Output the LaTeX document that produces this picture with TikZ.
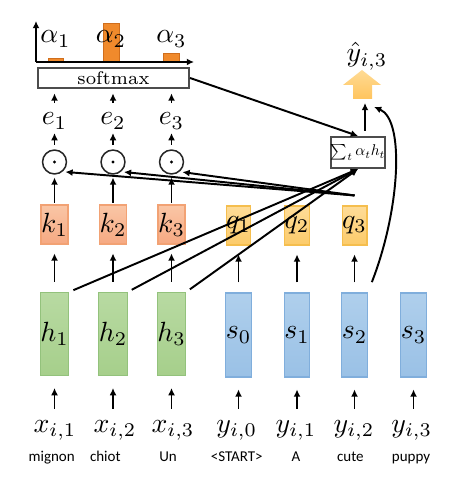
\documentclass[tikz,border=0pt]{standalone}
\usepackage{graphicx}
\usepackage{fontspec}
\newfontfamily\wordfont{Carlito}
\usetikzlibrary{arrows.meta}
\definecolor{kdraw}{HTML}{F2A274}
\definecolor{ktop}{HTML}{FAC6A6}
\definecolor{kbot}{HTML}{F6A982}
\definecolor{qdraw}{HTML}{F5BE4E}
\definecolor{qtop}{HTML}{FEDC98}
\definecolor{qbot}{HTML}{FCCB6A}
\definecolor{hdraw}{HTML}{93C27C}
\definecolor{htop}{HTML}{B8DAA2}
\definecolor{hbot}{HTML}{A6CF8B}
\definecolor{sdraw}{HTML}{80AEDC}
\definecolor{stop}{HTML}{AFCFEC}
\definecolor{sbot}{HTML}{9AC1E6}
\definecolor{barfill}{HTML}{F08A2C}
\definecolor{bardraw}{HTML}{D06E1C}
\definecolor{blktop}{HTML}{FFDB94}
\definecolor{blkbot}{HTML}{FFC45E}
\begin{document}
\begin{tikzpicture}[x=0.36pt,y=-0.36pt,
  arr/.style={-{Latex[length=2.6pt,width=2.5pt]}, line width=0.7pt, black},
  cell/.style={rectangle, inner sep=0pt, minimum width=6.84pt, line width=0.4pt},
  kbox/.style={cell, minimum height=14.04pt, draw=kdraw, top color=ktop, bottom color=kbot},
  qbox/.style={cell, minimum height=14.04pt, draw=qdraw, top color=qtop, bottom color=qbot},
  hbox/.style={cell, minimum height=29.9pt, draw=hdraw, top color=htop, bottom color=hbot},
  sbox/.style={cell, minimum height=30.2pt, draw=sdraw, top color=stop, bottom color=sbot},
  odot/.style={circle, draw=black!85, line width=0.55pt, minimum size=8.6pt, inner sep=0pt},
  lbl/.style={inner sep=0pt, anchor=base, text height=4.5pt, text depth=1.6pt},
  wlbl/.style={inner sep=0pt, anchor=base, font=\wordfont\fontsize{5.4}{6}\selectfont},
  graybox/.style={rectangle, draw=black!70, line width=0.7pt, inner sep=0pt, fill=white},
  bar/.style={fill=barfill, draw=bardraw, line width=0.35pt}
]
\useasboundingbox (0,0) rectangle (465,480);

% attention bars and axes
\draw[bar] (48,58) rectangle (63,62);
\draw[bar] (103,23) rectangle (119,62);
\draw[bar] (163,53) rectangle (179,62);
\coordinate (ax0) at (36,62);
\coordinate (axy) at (36,21);
\coordinate (axx) at (194,62);
\draw[arr] (ax0) -- (axy);
\draw[arr] (ax0) -- (axx);
\node[lbl] (a1) at (55.5,43) {$\alpha_1$};
\node[lbl] (a2) at (111,43) {$\alpha_2$};
\node[lbl] (a3) at (171.5,43) {$\alpha_3$};

% softmax
\node[graybox, minimum width=54.4pt, minimum height=7.2pt] (sm) at (113.5,78) {\fontsize{6.6}{8}\selectfont softmax};

% e labels
\node[lbl] (e1) at (54.5,125) {$e_1$};
\node[lbl] (e2) at (113,125) {$e_2$};
\node[lbl] (e3) at (171.5,125) {$e_3$};

% odots
\node[odot] (o1) at (54.5,162) {};
\node[odot] (o2) at (113,162) {};
\node[odot] (o3) at (171.5,162) {};
\fill (o1.center) circle (0.55pt);
\fill (o2.center) circle (0.55pt);
\fill (o3.center) circle (0.55pt);

% keys and queries
\node[kbox] (k1) at (54.5,224.5) {$k_1$};
\node[kbox] (k2) at (113,224.5) {$k_2$};
\node[kbox] (k3) at (171.5,224.5) {$k_3$};
\node[qbox] (q1) at (238.5,225.5) {$q_1$};
\node[qbox] (q2) at (297,225.5) {$q_2$};
\node[qbox] (q3) at (354.5,225.5) {$q_3$};

% hidden states
\node[hbox] (h1) at (54.5,334) {$h_1$};
\node[hbox] (h2) at (113,334) {$h_2$};
\node[hbox] (h3) at (171.5,334) {$h_3$};
\node[sbox] (s0) at (238.5,335) {$s_0$};
\node[sbox] (s1) at (297,335) {$s_1$};
\node[sbox] (s2) at (354.5,335) {$s_2$};
\node[sbox] (s3) at (413.5,335) {$s_3$};

% inputs
\node[lbl] (x1) at (55,432) {$x_{i,1}$};
\node[lbl] (x2) at (115,432) {$x_{i,2}$};
\node[lbl] (x3) at (173,432) {$x_{i,3}$};
\node[lbl] (y0) at (236.7,432) {$y_{i,0}$};
\node[lbl] (y1) at (296,432) {$y_{i,1}$};
\node[lbl] (y2) at (354,432) {$y_{i,2}$};
\node[lbl] (y3) at (411.7,432) {$y_{i,3}$};
\node[wlbl] (w1) at (51.7,461) {mignon};
\node[wlbl] (w2) at (105.3,461) {chiot};
\node[wlbl] (w3) at (168,461) {Un};
\node[wlbl] (w4) at (236.7,461) {<START>};
\node[wlbl] (w5) at (296,461) {A};
\node[wlbl] (w6) at (350.3,461) {cute};
\node[wlbl] (w7) at (411,461) {puppy};

% context sum and output
\node[graybox, minimum width=18.7pt, minimum height=11.2pt] (sum) at (358,152.5) {\scalebox{0.56}{$\sum_t\alpha_t h_t$}};
\shade[top color=blktop, bottom color=blkbot] (362,70) -- (381,85) -- (372,85) -- (372,99) -- (353,99) -- (353,85) -- (343,85) -- cycle;
\coordinate (blkin) at (365,103);
\coordinate (blkr) at (374,107);
\node[lbl, text height=7pt] (yh) at (367,62) {$\hat{y}_{i,3}$};

% vertical arrows
\foreach \a/\b in {x1/h1,x2/h2,x3/h3,y0/s0,y1/s1,y2/s2,y3/s3}
  \draw[arr, shorten <=3.6pt, shorten >=4.3pt] (\b.south |- \a.north) -- (\b.south);
\foreach \a/\b in {h1/k1,h2/k2,h3/k3,s0/q1,s1/q2,s2/q3}
  \draw[arr, shorten <=3.6pt, shorten >=3.2pt] (\a.north) -- (\b.south);
\foreach \a/\b in {k1/o1,k2/o2,k3/o3}
  \draw[arr, shorten <=0.6pt, shorten >=1pt] (\a.north) -- (\b.south);
\foreach \a/\b in {o1/e1,o2/e2,o3/e3}
  \draw[arr, shorten <=1.6pt, shorten >=1.1pt] (\a.north) -- (\b.south);
\foreach \a in {e1,e2,e3}
  \draw[arr, shorten <=3.2pt, shorten >=1.6pt] (\a.north) -- (\a.north |- sm.south);

% attention connections
\coordinate (qt) at ([yshift=3.6pt]q3.north);
\foreach \o in {o1,o2,o3}
  \draw[arr, shorten >=1pt] (qt) -- (\o.-50);
\foreach \h in {h1,h2,h3}
  \draw[arr, shorten <=1.6pt] (\h.north east) -- (sum.south);
\draw[arr] (sm.east) -- (sum.north);
\draw[arr, shorten <=1.8pt] (sum.north -| blkin) -- (blkin);
\draw[arr, shorten <=4pt] (s2.north east) .. controls (400,210) and (405,120) .. (blkr);
\end{tikzpicture}
\end{document}
